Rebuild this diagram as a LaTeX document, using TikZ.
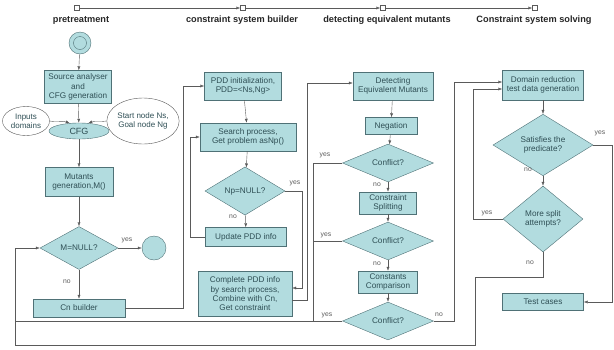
\documentclass[tikz,border=0pt]{standalone}
\usepackage{fontspec}
\setmainfont{Liberation Sans}
\usetikzlibrary{shapes.geometric, arrows.meta}
\definecolor{boxfill}{HTML}{B2DCDF}
\definecolor{boxline}{HTML}{4F7176}
\definecolor{linegray}{HTML}{5A5A5A}
\definecolor{txt}{HTML}{2F4F55}

\begin{document}
\begin{tikzpicture}[x=1pt, y=-1pt,
    proc/.style={draw=boxline, fill=boxfill, rectangle, align=center, text=txt,
      font=\fontsize{8.2}{9.3}\selectfont, inner sep=1pt},
    dec/.style={draw=boxline, fill=boxfill, diamond, align=center, text=txt,
      font=\fontsize{8.2}{9.3}\selectfont, inner sep=0pt},
    note/.style={draw=linegray, fill=white, ellipse, align=center, text=txt,
      font=\fontsize{8}{9.3}\selectfont, inner sep=0pt},
    arr/.style={draw=linegray, -{Latex[length=4pt,width=3pt]}},
    line/.style={draw=linegray},
    ans/.style={font=\fontsize{6.8}{8}\selectfont, text=linegray},
    phase/.style={font=\bfseries\fontsize{9.2}{10}\selectfont, text=black!85},
    tick/.style={draw=linegray, fill=white, minimum size=5pt, inner sep=0pt}]
  \useasboundingbox (0,0) rectangle (614,349);

  % phases on top
  \node[tick] (t1) at (77,8) {};
  \node[tick] (t2) at (243,8) {};
  \node[tick] (t3) at (383,8) {};
  \node[tick] (t4) at (535,8) {};
  \draw[arr] (t1) -- (t2);
  \draw[arr] (t2) -- (t3);
  \draw[arr] (t3) -- (t4);
  \node[phase] (ph1) at (81,20) {pretreatment};
  \node[phase] (ph2) at (242,20) {constraint system builder};
  \node[phase] (ph3) at (387,20) {detecting equivalent mutants};
  \node[phase] (ph4) at (534,20) {Constraint system solving};

  % pretreatment
  \node[draw=boxline, fill=boxfill, circle, minimum size=22pt] (start) at (80,43) {};
  \node[draw=boxline, circle, minimum size=13pt] (startin) at (start.center) {};
  \node[proc, minimum width=67, minimum height=33] (src) at (78,87) {Source analyser\\and\\CFG generation};
  \node[draw=boxline, fill=boxfill, ellipse, text=txt, font=\fontsize{9}{9}\selectfont,
    minimum width=60, minimum height=16, inner sep=0pt] (cfg) at (79,131) {CFG};
  \node[note, minimum width=47, minimum height=29] (inp) at (26,121) {Inputs\\domains};
  \node[note, minimum width=72, minimum height=46] (sng) at (143,121) {Start node Ns,\\Goal node Ng};
  \node[proc, minimum width=68, minimum height=29] (mut) at (79,182) {Mutants\\generation,M()};
  \node[dec, minimum width=78, minimum height=34] (mnull) at (79,248) {M=NULL?};
  \node[draw=boxline, fill=boxfill, circle, minimum size=24pt] (endc) at (154,248) {};
  \node[proc, minimum width=92, minimum height=18] (cnb) at (79,308) {Cn builder};

  \draw[arr] (start) -- (src);
  \draw[arr] (src) -- (cfg);
  \draw[arr] (inp.east) to[out=-10, in=160] (cfg.140);
  \draw[arr] (sng.west) to[out=190, in=20] (cfg.40);
  \draw[arr] (cfg) -- (mut);
  \draw[arr] (mut) -- (mnull);
  \draw[arr] (mnull) -- (endc);
  \draw[arr] (mnull) -- (cnb);
  \node[ans] (y1) at (127,240) {yes};
  \node[ans] (n1) at (67,282) {no};

  % constraint system builder
  \node[proc, minimum width=77, minimum height=28] (pddi) at (243,86) {PDD initialization,\\PDD=<Ns,Ng>};
  \node[proc, minimum width=96, minimum height=28] (srch) at (248,137) {Search process,\\Get problem asNp()};
  \node[dec, minimum width=80, minimum height=33] (npnull) at (245,191) {Np=NULL?};
  \node[proc, minimum width=81, minimum height=19] (upd) at (246,237) {Update PDD info};
  \node[proc, minimum width=94, minimum height=45] (cmpl) at (245,294)
    {Complete PDD info\\by search process,\\Combine with Cn,\\Get constraint};

  \draw[arr] (cnb.east) -- ++(58,0) |- (pddi.west);
  \draw[arr] (pddi) -- (srch);
  \draw[arr] (srch) -- (npnull);
  \draw[arr] (npnull) -- (upd);
  \draw[arr] (upd.west) -- ++(-15,0) |- (srch.west);
  \draw[arr] (npnull.east) -- ++(17,0) |- ([yshift=6pt]cmpl.east);
  \node[ans] (y2) at (295,183) {yes};
  \node[ans] (n2) at (233,217) {no};

  % detecting equivalent mutants
  \node[proc, minimum width=80, minimum height=28] (dem) at (393,86) {Detecting\\Equivalent Mutants};
  \node[proc, minimum width=52, minimum height=17] (neg) at (391,126) {Negation};
  \node[dec, minimum width=91, minimum height=33] (cf1) at (388,163) {Conflict?};
  \node[proc, minimum width=57, minimum height=22] (split) at (388,203) {Constraint\\Splitting};
  \node[dec, minimum width=91, minimum height=31] (cf2) at (388,241) {Conflict?};
  \node[proc, minimum width=59, minimum height=22] (cmp) at (388,282) {Constants\\Comparison};
  \node[dec, minimum width=91, minimum height=33] (cf3) at (388,321) {Conflict?};
  \coordinate (jn) at (313,321);
  \coordinate (lp) at (15,248);

  \draw[arr] ([yshift=-6pt]cmpl.east) -- ++(15,0) |- ([yshift=3pt]dem.west);
  \draw[arr] (dem) -- (neg);
  \draw[arr] (neg) -- (cf1);
  \draw[arr] (cf1) -- (split);
  \draw[arr] (split) -- (cf2);
  \draw[arr] (cf2) -- (cmp);
  \draw[arr] (cmp) -- (cf3);
  \draw[line] (cf1.west) -| (jn);
  \draw[line] (cf2.west) -- (cf2.west -| jn);
  \draw[arr] (cf3.west) -| (lp) -- (mnull.west);
  \node[ans] (y3) at (325,155) {yes};
  \node[ans] (y4) at (326,235) {yes};
  \node[ans] (y5) at (327,315) {yes};
  \node[ans] (n3) at (377,185) {no};
  \node[ans] (n4) at (377,264) {no};
  \node[ans] (n5) at (439,315) {no};

  % constraint system solving
  \node[proc, minimum width=81, minimum height=30] (dred) at (543,85) {Domain reduction\\test data generation};
  \node[dec, minimum width=100, minimum height=45] (sat) at (543,145) {Satisfies the\\predicate?};
  \node[dec, minimum width=80, minimum height=66] (msa) at (543,219) {More split\\attempts?};
  \node[proc, minimum width=81, minimum height=17] (tc) at (543,302) {Test cases};
  \coordinate (b1) at (475,345);
  \coordinate (b2) at (15,345);

  \draw[arr] (cf3.east) -- ++(20,0) |- ([yshift=3pt]dred.west);
  \draw[arr] (dred) -- (sat);
  \draw[arr] (sat) -- (msa);
  \draw[arr] (sat.east) -- ++(19,0) |- (tc.east);
  \draw[arr] (msa.west) -- ++(-30,0) |- ([yshift=-4pt]dred.west);
  \draw[line] (msa.south) -- ++(0,25) -| (b1) -- (b2) -- (lp);
  \node[ans] (y6) at (600,133) {yes};
  \node[ans] (n6) at (528,170) {no};
  \node[ans] (y7) at (487,213) {yes};
  \node[ans] (n7) at (530,263) {no};
\end{tikzpicture}
\end{document}
